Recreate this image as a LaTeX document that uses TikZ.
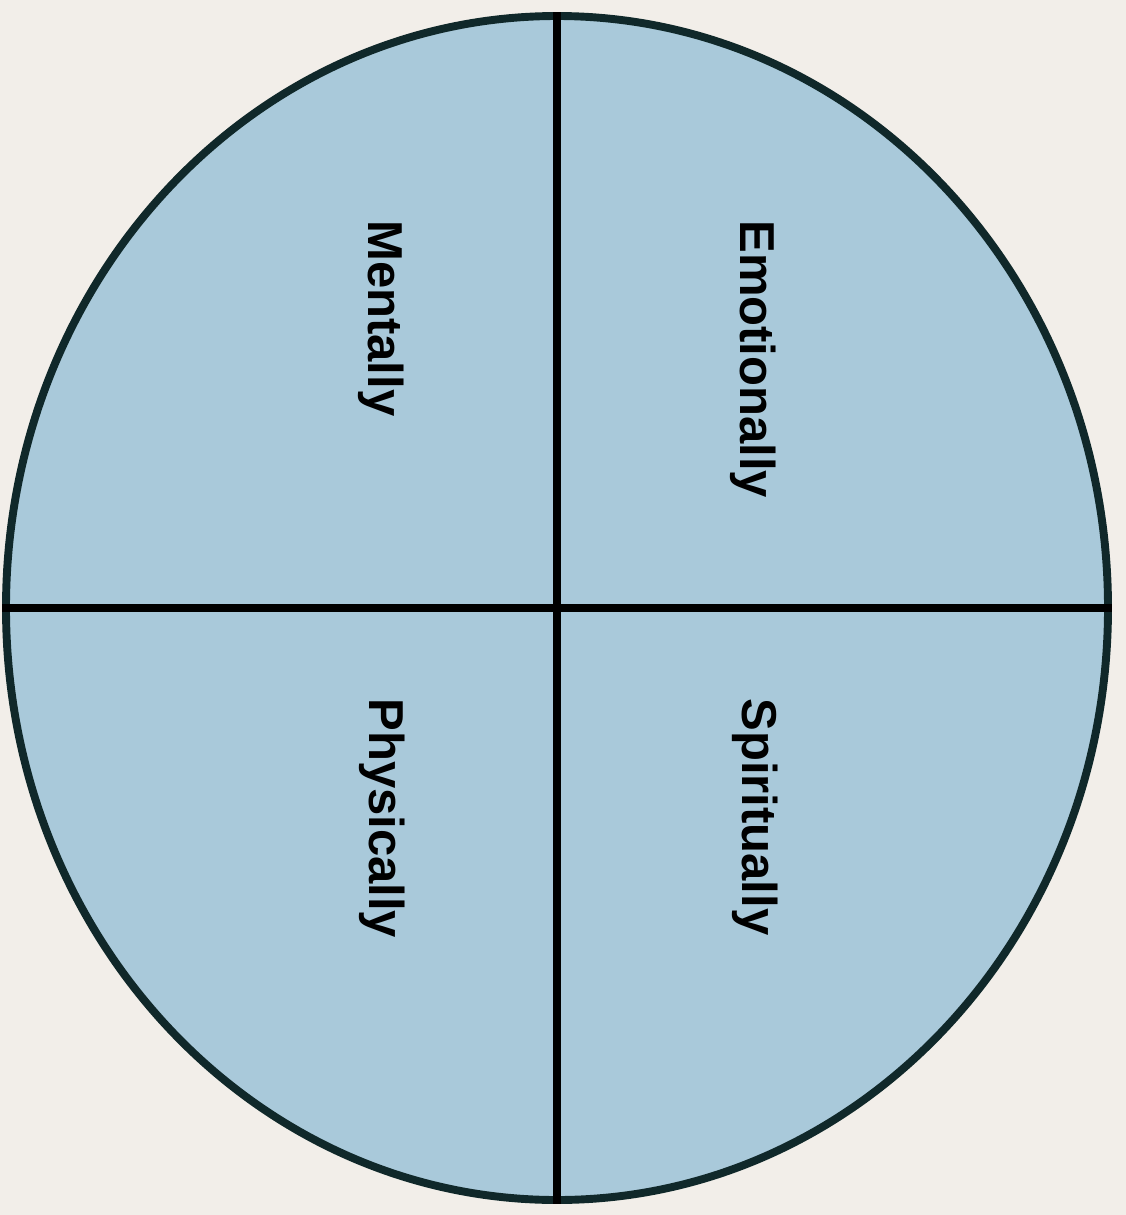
\documentclass[tikz,border=0pt]{standalone}
\usepackage{fontspec}
\setmainfont{Liberation Sans}
\usetikzlibrary{shapes.geometric}
\definecolor{paper}{RGB}{242,238,233}
\definecolor{wheelfill}{RGB}{169,201,218}
\definecolor{rimcol}{RGB}{16,40,42}
\begin{document}
\begin{tikzpicture}[
			wheelnode/.style={draw=rimcol, line width=4.5pt, fill=wheelfill, ellipse, inner sep=0pt, minimum width=22.04cm, minimum height=23.68cm},
			divider/.style={line width=4.3pt, black},
			label/.style={rotate=-90, anchor=west, inner sep=0pt, font=\fontsize{27.9}{30}\selectfont\bfseries}
			]
			% Page
			\fill[paper] (0,0) rectangle (22.52,-24.3);
			\useasboundingbox (0,0) rectangle (22.52,-24.3);
			
			% Wheel
			\node[wheelnode] (wheel) at (11.14, -12.16) {};
			
			% Dividers
			\draw[divider] (wheel.north) -- (wheel.south);
			\draw[divider] (wheel.west) -- (wheel.east);
			
			% Quadrant labels
			\node[label] (mental) at (7.62, -4.40) {Mentally};
			\node[label] (emotional) at (15.06, -4.40) {Emotionally};
			\node[label] (physical) at (7.64, -13.96) {Physically};
			\node[label] (spiritual) at (15.10, -13.96) {Spiritually};
		\end{tikzpicture}
\end{document}
